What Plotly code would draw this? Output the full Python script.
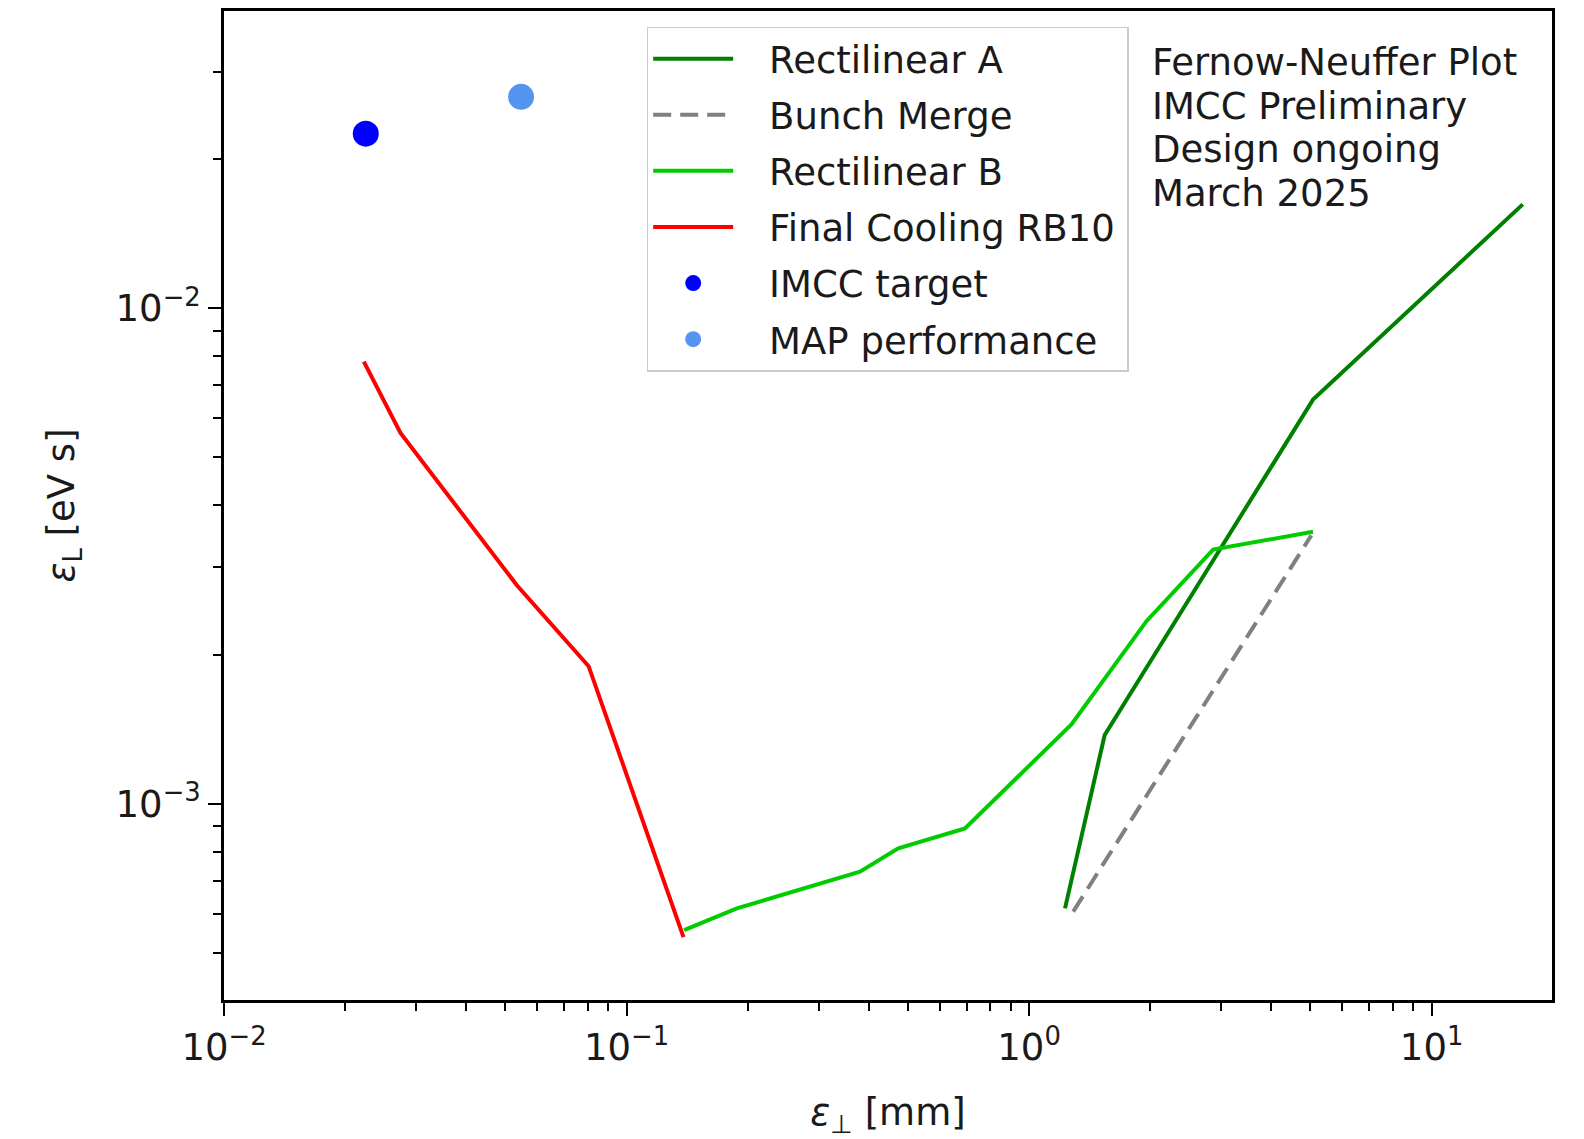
import plotly.graph_objects as go

# ---- data ----
rect_a_x = [1.228, 1.541, 5.074, 16.84]
rect_a_y = [0.000615, 0.001376, 0.00654, 0.0162]

merge_x = [1.287, 5.025]
merge_y = [0.000606, 0.00348]

rect_b_x = [0.1390, 0.1879, 0.3802, 0.4732, 0.693, 1.274, 1.957, 2.865, 5.074]
rect_b_y = [0.000556, 0.000615, 0.000729, 0.000813, 0.000892, 0.001445, 0.002336, 0.003257, 0.003539]

fc_x = [0.02225, 0.02744, 0.0534, 0.0805, 0.1385]
fc_y = [0.0078, 0.0056, 0.00276, 0.001895, 0.000538]

imcc_x = [0.0225]
imcc_y = [0.0225]
map_x = [0.0547]
map_y = [0.0267]

x_tickvals = [0.01, 0.1, 1, 10]
x_ticktext = ["10<sup>−2</sup>", "10<sup>−1</sup>", "10<sup>0</sup>", "10<sup>1</sup>"]
y_tickvals = [0.001, 0.01]
y_ticktext = ["10<sup>−3</sup>", "10<sup>−2</sup>"]
x_minor = [m * d for d in (0.01, 0.1, 1) for m in range(2, 10)]
y_minor = [m * d for d in (0.0001, 0.001, 0.01) for m in range(2, 10)]

series_names = ["Rectilinear A", "Bunch Merge", "Rectilinear B", "Final Cooling RB10",
                "IMCC target", "MAP performance"]
note_lines = ["Fernow-Neuffer Plot", "IMCC Preliminary", "Design ongoing", "March 2025"]

FONT = "DejaVu Sans"
FS = 37
TXT = "#1a1a1a"
PAD = "\u00a0\u00a0\u2009"  # pushes legend text right, as in the reference
TAIL = "\u2009"


def leg(name):
    return PAD + name + TAIL


fig = go.Figure()
fig.add_trace(go.Scatter(x=rect_a_x, y=rect_a_y, mode="lines", name=leg(series_names[0]),
                         line=dict(color="#008000", width=4), legendgroup="a"))
fig.add_trace(go.Scatter(x=merge_x, y=merge_y, mode="lines", name=leg(series_names[1]),
                         line=dict(color="#808080", width=4, dash="18px,9px"), legendgroup="b"))
fig.add_trace(go.Scatter(x=rect_b_x, y=rect_b_y, mode="lines", name=leg(series_names[2]),
                         line=dict(color="#00cc00", width=4), legendgroup="c"))
fig.add_trace(go.Scatter(x=fc_x, y=fc_y, mode="lines", name=leg(series_names[3]),
                         line=dict(color="#ff0000", width=4), legendgroup="d"))
fig.add_trace(go.Scatter(x=imcc_x, y=imcc_y, mode="markers", name=leg(series_names[4]),
                         marker=dict(color="#0000ff", size=26), legendgroup="e"))
fig.add_trace(go.Scatter(x=map_x, y=map_y, mode="markers", name=leg(series_names[5]),
                         marker=dict(color="#5595f0", size=26), legendgroup="f"))

OFF = 8  # page offset of the figure
W, H = 1584 - OFF, 1139 - OFF
L = 223.5 - OFF
T = 10.7 - OFF
R = W - (1552.5 - OFF)
B = H - (1000 - OFF)
pw = W - L - R
ph = H - T - B


def px_to_paper_x(px):
    return (px - OFF - L) / pw


def px_to_paper_y(py):
    return 1 - (py - OFF - T) / ph


axis_common = dict(
    type="log", showline=True, mirror=True, linecolor="black", linewidth=2.5,
    ticks="outside", ticklen=13, tickwidth=2, tickcolor="black",
    showgrid=False, zeroline=False,
    tickfont=dict(family=FONT, size=FS, color=TXT),
)

fig.update_xaxes(**axis_common, range=[-2, 1.299], tickmode="array",
                 tickvals=x_tickvals, ticktext=x_ticktext,
                 minor=dict(tickmode="array", tickvals=x_minor, ticks="outside",
                            ticklen=8, tickwidth=1.6, tickcolor="black", showgrid=False),
                 title=dict(text="<i>ε</i><sub>⊥</sub> [mm]", standoff=32,
                            font=dict(family=FONT, size=FS, color=TXT)))
fig.update_yaxes(**axis_common, range=[-3.396, -1.4003], tickmode="array",
                 tickvals=y_tickvals, ticktext=y_ticktext,
                 minor=dict(tickmode="array", tickvals=y_minor, ticks="outside",
                            ticklen=8, tickwidth=1.6, tickcolor="black", showgrid=False),
                 title=dict(text="<i>ε</i><sub>L</sub> [eV s]", standoff=30,
                            font=dict(family=FONT, size=FS, color=TXT)))

line_centers = [62.6, 106.1, 149.5, 193.0]
for txt, yc in zip(note_lines, line_centers):
    fig.add_annotation(text=txt, xref="paper", yref="paper",
                       x=px_to_paper_x(1150.6), y=px_to_paper_y(yc),
                       xanchor="left", yanchor="middle", showarrow=False,
                       font=dict(family=FONT, size=FS, color=TXT))

fig.update_layout(
    width=W, height=H,
    margin=dict(l=L, r=R, t=T, b=B, autoexpand=False),
    paper_bgcolor="white", plot_bgcolor="white",
    font=dict(family=FONT, size=FS, color=TXT),
    showlegend=True,
    legend=dict(x=px_to_paper_x(646.5), y=px_to_paper_y(26.3), xanchor="left", yanchor="top",
                bgcolor="rgba(255,255,255,0.8)", bordercolor="#cccccc", borderwidth=1.5,
                font=dict(family=FONT, size=FS, color=TXT), itemwidth=80,
                tracegroupgap=5, traceorder="grouped"),
)

fig.write_html("out.html")
